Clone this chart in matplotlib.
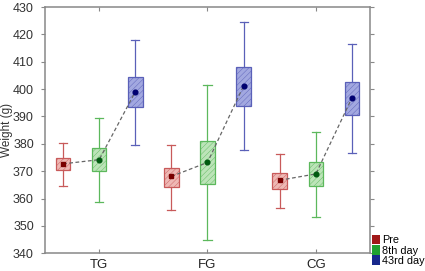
import numpy as np
import matplotlib
matplotlib.use('Agg')
import matplotlib.pyplot as plt
from matplotlib.patches import Patch

plt.rcParams['font.family'] = ['Liberation Sans', 'DejaVu Sans']
plt.rcParams['hatch.linewidth'] = 0.3

# Данные
groups = ['TG', 'FG', 'CG']
series = ['Pre', '8th day', '43rd day']

pre_lo = [364.5, 356.0, 356.5]
pre_q1 = [370.4, 364.4, 363.6]
pre_mean = [372.7, 368.1, 366.7]
pre_q3 = [374.8, 371.0, 369.2]
pre_hi = [380.4, 379.7, 376.4]

d8_lo = [358.7, 345.0, 353.4]
d8_q1 = [369.9, 365.3, 364.5]
d8_mean = [374.2, 373.2, 369.0]
d8_q3 = [378.5, 381.2, 373.3]
d8_hi = [389.4, 401.5, 384.4]

d43_lo = [379.7, 377.6, 376.7]
d43_q1 = [393.3, 393.7, 390.5]
d43_mean = [399.0, 401.2, 396.8]
d43_q3 = [404.3, 408.2, 402.6]
d43_hi = [417.8, 424.5, 416.6]

all_stats = [
	(pre_lo, pre_q1, pre_mean, pre_q3, pre_hi),
	(d8_lo, d8_q1, d8_mean, d8_q3, d8_hi),
	(d43_lo, d43_q1, d43_mean, d43_q3, d43_hi),
]

# Стили серий
edge_colors = ['#c85a5a', '#5cb85c', '#5a60b8']
face_colors = ['#eeb8b4', '#bce4b8', '#a2a8e0']
mean_colors = ['#7a0000', '#005a10', '#000070']
mean_markers = ['s', 'o', 'o']
legend_colors = ['#a01818', '#20a030', '#18288c']
offsets = [-1 / 3, 0, 1 / 3]

fig = plt.figure(figsize=(4.25, 2.71), dpi=100)
ax = fig.add_axes([45 / 425, 1 - 253.3 / 271, 325 / 425, 246.3 / 271])

x = np.arange(1, len(groups) + 1)

for i, (lo, q1, mn, q3, hi) in enumerate(all_stats):
	stats = []
	for j in range(len(groups)):
		stats.append({'whislo': lo[j], 'q1': q1[j], 'med': mn[j], 'q3': q3[j],
					  'whishi': hi[j], 'mean': mn[j], 'fliers': []})
	pos = x + offsets[i]
	ax.bxp(stats, positions=pos, widths=0.135, capwidths=0.075,
		   patch_artist=True, showmeans=False, manage_ticks=False,
		   boxprops=dict(facecolor=face_colors[i], edgecolor=edge_colors[i],
						 linewidth=0.9, hatch='//////'),
		   whiskerprops=dict(color=edge_colors[i], linewidth=0.9),
		   capprops=dict(color=edge_colors[i], linewidth=0.9),
		   medianprops=dict(linewidth=0))

# Пунктир между средними внутри группы
for j in range(len(groups)):
	xs = [x[j] + o for o in offsets]
	ys = [s[2][j] for s in all_stats]
	ax.plot(xs, ys, linestyle=(0, (3, 2)), color='#666666', linewidth=0.9, zorder=4)

for i, s in enumerate(all_stats):
	ax.plot(x + offsets[i], s[2], linestyle='none', marker=mean_markers[i],
			markersize=3.4, color=mean_colors[i], zorder=5)

ax.set_xlim(0.5, 3.5)
ax.set_ylim(340, 430)
ax.set_yticks(np.arange(340, 431, 10))
ax.set_xticks(x)
ax.set_xticklabels(groups, fontsize=9.5, color='#222222')
ax.tick_params(axis='y', labelsize=9, direction='out', length=3, pad=5,
			   right=True, color='#888888', labelcolor='#333333')
ax.tick_params(axis='x', direction='in', length=3, top=True, color='#888888',
			   labelcolor='#222222', pad=4)
for sp in ax.spines.values():
	sp.set_color('#888888')
	sp.set_linewidth(1.1)
ax.set_ylabel('Weight (g)', fontsize=8.5, color='#333333')
ax.yaxis.set_label_coords(-0.097, 0.5)

handles = [Patch(facecolor=c, edgecolor='none') for c in legend_colors]
fig.legend(handles, series, loc='lower left', bbox_to_anchor=(371 / 425, 0.015),
		   frameon=False, fontsize=7.8, handlelength=0.75, handleheight=1.0,
		   handletextpad=0.2, labelspacing=-0.02, borderpad=0.1, borderaxespad=0)

fig.savefig('out.png', dpi=100)
